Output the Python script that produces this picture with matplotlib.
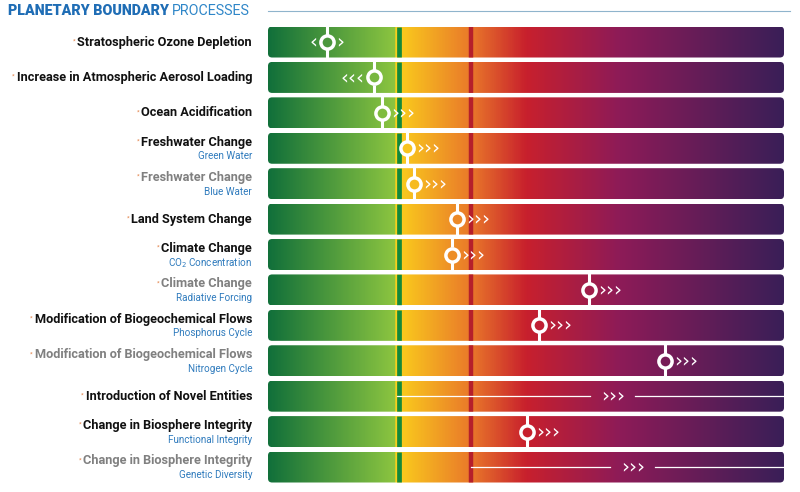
import numpy as np
import matplotlib
matplotlib.use("Agg")
import matplotlib.pyplot as plt
from matplotlib.colors import LinearSegmentedColormap
from matplotlib.patches import FancyBboxPatch

plt.rcParams['font.family'] = ['Roboto', 'DejaVu Sans']

# data: position of each process along the bar (0-100 scale)
labels = ["Stratospheric Ozone Depletion", "Increase in Atmospheric Aerosol Loading",
          "Ocean Acidification", "Freshwater Change", "Freshwater Change",
          "Land System Change", "Climate Change", "Climate Change",
          "Modification of Biogeochemical Flows", "Modification of Biogeochemical Flows",
          "Introduction of Novel Entities", "Change in Biosphere Integrity",
          "Change in Biosphere Integrity"]
sublabels = ["", "", "", "Green Water", "Blue Water", "", "CO$_2$ Concentration",
             "Radiative Forcing", "Phosphorus Cycle", "Nitrogen Cycle", "",
             "Functional Integrity", "Genetic Diversity"]
grey_label = [False, False, False, False, True, False, False, True, False, True,
              False, False, True]
positions = [11.4, 20.5, 22.1, 26.9, 28.3, 36.6, 35.7, 62.2, 52.5, 76.9, None, 50.2, None]
trend = ["both", "left", "right", "right", "right", "right", "right", "right",
         "right", "right", "right", "right", "right"]
# rows with no quantified value: line starts at boundary, arrows at position
unquantified_start = {10: 25.0, 12: 39.3}
unquantified_arrow = {10: 66.9, 12: 70.7}

safe_boundary = 25.0
high_risk = 39.3

cmap = LinearSegmentedColormap.from_list("pb", [
    (0.0, "#12703a"),
    (0.245, "#8cc540"),
    (0.2451, "#fbd11c"),
    (0.393, "#e9782a"),
    (0.50, "#c8202d"),
    (0.68, "#8e1b57"),
    (1.0, "#3a1f58"),
])

fig = plt.figure(figsize=(8, 4.92), dpi=100)
ax = fig.add_axes([0.335, 0.0148, 0.645, 0.9358])
n = len(labels)
ax.set_xlim(0, 100)
ax.set_ylim(n - 0.5, -0.5)
ax.axis('off')

chev = dict(color='white', fontsize=14.5, va='center', family='DejaVu Sans')

bar_h = 0.875
grad = np.linspace(0, 1, 600).reshape(1, -1)
for i in range(n):
    y0 = i - bar_h / 2
    patch = FancyBboxPatch((0, y0), 100, bar_h, boxstyle="round,pad=0,rounding_size=0.8",
                           mutation_aspect=0.14, facecolor='none', edgecolor='none')
    ax.add_patch(patch)
    im = ax.imshow(grad, cmap=cmap, aspect='auto', extent=(0, 100, y0 + bar_h, y0),
                   interpolation='bilinear')
    im.set_clip_path(patch)
    # boundary lines
    ax.plot([safe_boundary + 0.3] * 2, [y0, y0 + bar_h], color="#13893b", lw=3.4,
            solid_capstyle='butt', clip_path=patch)
    ax.plot([high_risk] * 2, [y0, y0 + bar_h], color="#b51f2b", lw=3.2,
            solid_capstyle='butt', clip_path=patch)

    pos = positions[i]
    if pos is not None:
        face = cmap(pos / 100)
        r = 0.2
        ax.plot([pos, pos], [y0 - 0.06, i - r], color='white', lw=2.2, solid_capstyle='butt')
        ax.plot([pos, pos], [i + r, y0 + bar_h + 0.06], color='white', lw=2.2, solid_capstyle='butt')
        ax.plot(pos, i, 'o', ms=9.5, mfc=face, mec='white', mew=2.5, zorder=5)
        if trend[i] == "right":
            ax.text(pos + 1.8, i, "›››", ha='left', **chev)
        elif trend[i] == "left":
            ax.text(pos - 1.8, i, "‹‹‹", ha='right', **chev)
        else:
            ax.text(pos - 1.8, i, "‹", ha='right', **chev)
            ax.text(pos + 1.8, i, "›", ha='left', **chev)
    else:
        start = unquantified_start[i]
        arrow = unquantified_arrow[i]
        ax.plot([start, arrow - 4.5], [i, i], color='white', lw=0.9)
        ax.plot([arrow + 4.3, 100], [i, i], color='white', lw=0.9)
        ax.text(arrow, i, "›››", ha='center', **chev)

# labels
fig.canvas.draw()
renderer = fig.canvas.get_renderer()
trans = matplotlib.transforms.blended_transform_factory(ax.transAxes, ax.transData)
for i in range(n):
    col = "#808080" if grey_label[i] else "#111111"
    dy = -0.17 if sublabels[i] else 0.0
    t = ax.text(-0.031, i + dy, labels[i], transform=trans,
                ha='right', va='center', fontsize=9.2, fontweight='bold', color=col)
    if sublabels[i]:
        ax.text(-0.031, i + 0.23, sublabels[i], ha='right', va='center', fontsize=7.1,
                color="#2f7bbd", transform=trans)
    bb = t.get_window_extent(renderer)
    fig.text((bb.x0 - 1.5) / fig.bbox.width, (bb.y1 - 3) / fig.bbox.height, "*",
             fontsize=4.5, color="#e3834a", ha='right', va='top')

# title
ttl = fig.text(0.01, 0.977, "PLANETARY BOUNDARY", fontsize=10.3, fontweight='black',
               color="#1f6db5", va='center', ha='left')
fig.canvas.draw()
bb = ttl.get_window_extent(renderer)
fig.text((bb.x1 + 3) / fig.bbox.width, 0.977, "PROCESSES", fontsize=10.3,
         color="#2e86c8", va='center', ha='left')
fig.add_artist(matplotlib.lines.Line2D([0.335, 0.988], [0.977, 0.977], color="#8fb4cc", lw=0.8))

fig.savefig("out.png", dpi=100)
